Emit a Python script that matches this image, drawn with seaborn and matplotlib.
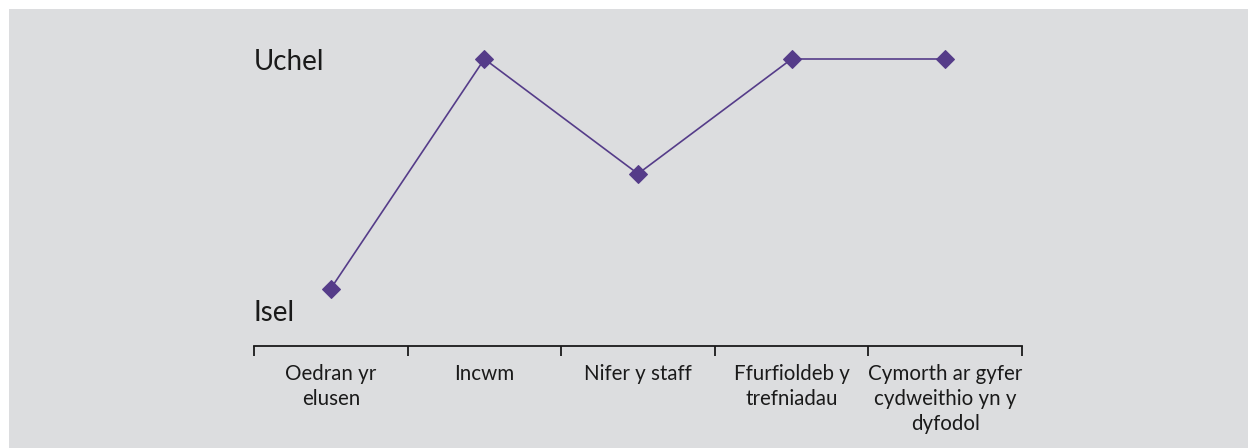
import matplotlib
matplotlib.use("Agg")
import matplotlib.pyplot as plt
import seaborn as sns
from matplotlib.patches import Rectangle

# Data
categories = ["Oedran yr\nelusen", "Incwm", "Nifer y staff",
              "Ffurfioldeb y\ntrefniadau", "Cymorth ar gyfer\ncydweithio yn y\ndyfodol"]
levels = [1, 5, 3, 5, 5]
level_ticks = [0.62, 5]
level_labels = ["Isel", "Uchel"]

purple = "#553c89"
grey_bg = "#dcdddf"

sns.set_theme(style="white")
plt.rcParams['font.family'] = ['Lato', 'DejaVu Sans']

fig = plt.figure(figsize=(12.48, 4.48), dpi=100)
fig.patch.set_facecolor("white")
fig.patches.append(Rectangle((9 / 1248, 0), 1, 1 - 9 / 448, transform=fig.transFigure,
                             facecolor=grey_bg, edgecolor="none", zorder=-10))

ax = fig.add_axes([254 / 1248, 102 / 448, 768 / 1248, 287 / 448])
ax.set_facecolor("none")

x = list(range(len(categories)))
sns.lineplot(x=x, y=levels, ax=ax, color=purple, linewidth=1.2,
             marker="D", markersize=9.5, markeredgecolor=purple, sort=False)

ax.set_xlim(-0.5, len(categories) - 0.5)
ax.set_ylim(0, 5)

for side in ["top", "right", "left"]:
    ax.spines[side].set_visible(False)
ax.spines["bottom"].set_color("#1a1a1a")
ax.spines["bottom"].set_linewidth(1.3)

ax.set_xticks(x)
ax.set_xticklabels(categories, fontsize=14.8, linespacing=1.32)
ax.set_xticks([i - 0.5 for i in range(len(categories) + 1)], minor=True)
ax.tick_params(axis="x", which="major", length=0, pad=13, colors="#1a1a1a")
ax.tick_params(axis="x", which="minor", length=7, width=1.3, direction="out",
               color="#1a1a1a", bottom=True)

ax.set_yticks(level_ticks)
ax.set_yticklabels(level_labels, fontsize=20, ha="left")
ax.tick_params(axis="y", length=0, pad=0, colors="#1a1a1a")
for lab in ax.get_yticklabels():
    lab.set_x(0.0)

for line in ax.lines:
    line.set_clip_on(False)

ax.set_xlabel("")
ax.set_ylabel("")

fig.savefig("out.png", dpi=100)
